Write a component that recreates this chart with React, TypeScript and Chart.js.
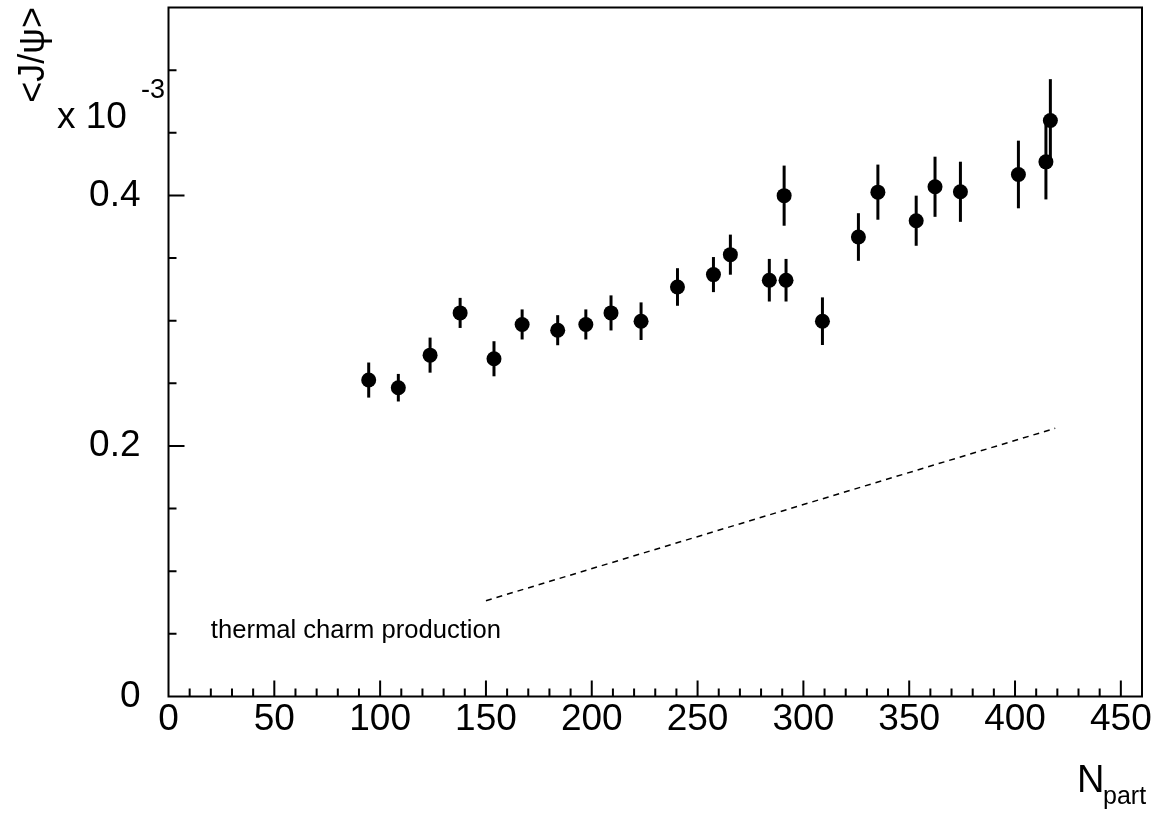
import React, { useEffect, useRef } from "react";
import { Chart, registerables } from "chart.js";

Chart.register(...registerables);

// N_part of each centrality bin
const nPart = [
  94.6, 108.6, 123.6, 137.8, 153.8, 167.1, 183.9, 197.2, 209.1, 223.3, 240.5,
  257.5, 265.5, 283.9, 291.8, 290.9, 309.0, 326.0, 335.2, 353.3, 362.2, 374.2,
  401.6, 414.6, 416.7,
];
// <J/psi> in units of 1e-3
const ratio = [
  0.2526, 0.2465, 0.2725, 0.3062, 0.2696, 0.297, 0.2924, 0.297, 0.3062, 0.2996,
  0.3269, 0.3368, 0.3527, 0.3323, 0.3323, 0.3998, 0.2996, 0.3668, 0.4026,
  0.3798, 0.4069, 0.4029, 0.4167, 0.4268, 0.4598,
];
const ratioErr = [
  0.014, 0.011, 0.014, 0.012, 0.014, 0.012, 0.012, 0.012, 0.014, 0.015, 0.015,
  0.014, 0.016, 0.017, 0.017, 0.024, 0.019, 0.019, 0.022, 0.02, 0.024, 0.024,
  0.027, 0.03, 0.033,
];
// thermal charm production curve
const thermalX = [150, 419];
const thermalY = [0.0765, 0.2141];

const xTicks = [0, 50, 100, 150, 200, 250, 300, 350, 400, 450];
const yTicks = [0, 0.2, 0.4];

const FONT = "'Liberation Sans', Arial, Helvetica, sans-serif";

const rootStyle = {
  id: "rootStyle",
  beforeDatasetsDraw(chart: any) {
    const { ctx } = chart;
    const x = chart.scales.x;
    const y = chart.scales.y;
    ctx.save();
    ctx.strokeStyle = "#000";
    ctx.lineWidth = 3;
    nPart.forEach((v, i) => {
      const px = x.getPixelForValue(v);
      ctx.beginPath();
      ctx.moveTo(px, y.getPixelForValue(ratio[i] - ratioErr[i]));
      ctx.lineTo(px, y.getPixelForValue(ratio[i] + ratioErr[i]));
      ctx.stroke();
    });
    ctx.restore();
  },
  afterDraw(chart: any) {
    const { ctx, chartArea } = chart;
    const x = chart.scales.x;
    const y = chart.scales.y;
    const { left, right, top, bottom } = chartArea;
    ctx.save();
    ctx.strokeStyle = "#000";
    ctx.lineWidth = 2;
    ctx.strokeRect(left, top, right - left, bottom - top);

    // inward ticks, ROOT style
    ctx.beginPath();
    for (let k = 1; k <= 45; k++) {
      const px = x.getPixelForValue(k * 10);
      const len = k % 5 === 0 ? 16 : 8;
      ctx.moveTo(px, bottom);
      ctx.lineTo(px, bottom - len);
    }
    for (let k = 1; k <= 10; k++) {
      const py = y.getPixelForValue(k * 0.05);
      const len = k % 4 === 0 ? 16 : 8;
      ctx.moveTo(left, py);
      ctx.lineTo(left + len, py);
    }
    ctx.stroke();

    ctx.fillStyle = "#000";
    ctx.textBaseline = "alphabetic";

    // y title
    ctx.save();
    ctx.translate(44, 7);
    ctx.rotate(-Math.PI / 2);
    ctx.textAlign = "right";
    ctx.font = `36px ${FONT}`;
    ctx.fillText("<J/\u03c8>", 0, 0);
    ctx.restore();

    ctx.textAlign = "left";
    ctx.font = `37px ${FONT}`;
    ctx.fillText("x 10", 57, 128);
    ctx.font = `27px ${FONT}`;
    ctx.fillText("-3", 141, 98);

    // x title
    ctx.font = `38px ${FONT}`;
    ctx.fillText("N", 1077, 792);
    ctx.font = `25px ${FONT}`;
    ctx.fillText("part", 1103, 804);

    // curve label
    ctx.font = `25.6px ${FONT}`;
    ctx.fillText(
      "thermal charm production",
      x.getPixelForValue(20),
      y.getPixelForValue(0.047)
    );
    ctx.restore();
  },
};

const JpsiChart = () => {
  const ref = useRef<HTMLCanvasElement>(null!);
  useEffect(() => {
    const chart = new Chart(ref.current, {
      type: "scatter",
      data: {
        datasets: [
          {
            data: nPart.map((v, i) => ({ x: v, y: ratio[i] })),
            backgroundColor: "#000",
            borderColor: "#000",
            pointRadius: 7.5,
            pointHoverRadius: 7.5,
            borderWidth: 0,
          },
          {
            type: "line",
            data: thermalX.map((v, i) => ({ x: v, y: thermalY[i] })),
            borderColor: "#000",
            borderWidth: 1.5,
            borderDash: [6, 5],
            pointRadius: 0,
            fill: false,
          } as any,
        ],
      },
      options: {
        animation: false,
        responsive: false,
        events: [],
        layout: { padding: { top: 5, right: 28, left: 0, bottom: 0 } },
        plugins: {
          legend: { display: false },
          tooltip: { enabled: false },
        },
        scales: {
          x: {
            type: "linear",
            min: 0,
            max: 460,
            grid: { display: false, drawTicks: false },
            border: { display: false },
            afterBuildTicks: (s: any) => {
              s.ticks = xTicks.map((v) => ({ value: v }));
            },
            afterFit: (s: any) => {
              s.height = 119.5;
              s.paddingLeft = 0;
              s.paddingRight = 0;
            },
            ticks: {
              autoSkip: false,
              maxRotation: 0,
              padding: 1,
              color: "#000",
              font: { family: FONT, size: 37 },
              callback: (v: any) => String(v),
            },
          },
          y: {
            type: "linear",
            min: 0,
            max: 0.55,
            grid: { display: false, drawTicks: false },
            border: { display: false },
            afterBuildTicks: (s: any) => {
              s.ticks = yTicks.map((v) => ({ value: v }));
            },
            afterFit: (s: any) => {
              s.width = 168.5;
              s.paddingTop = 0;
              s.paddingBottom = 0;
            },
            ticks: {
              autoSkip: false,
              padding: 28,
              color: "#000",
              font: { family: FONT, size: 37 },
              callback: (v: any) => String(v),
            },
          },
        },
      },
      plugins: [rootStyle],
    });
    return () => {
      chart.destroy();
    };
  }, []);
  return (
    <div style={{ position: "absolute", left: 0, top: 0, width: 1170, height: 816, background: "#fff" }}>
      <canvas ref={ref} width={1170} height={816} style={{ display: "block" }} />
    </div>
  );
};

export default function App() {
  return <JpsiChart />;
}
